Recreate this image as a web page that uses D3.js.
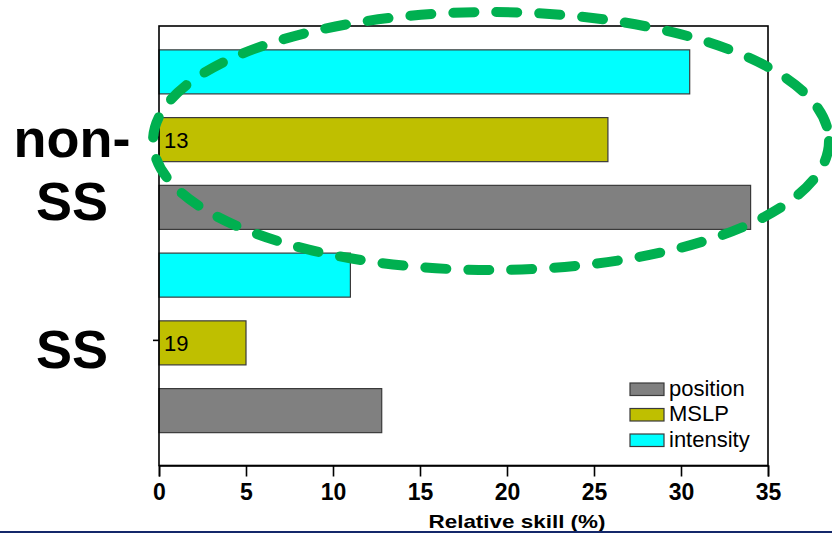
<!DOCTYPE html>
<html>
<head>
<meta charset="utf-8">
<script src="https://cdn.jsdelivr.net/npm/d3@7"></script>
<style>
  html, body { margin: 0; padding: 0; background: #fff; }
  svg { display: block; }
  text { font-family: "Liberation Sans", Arial, sans-serif; }
</style>
</head>
<body>
<svg id="chart" width="832" height="533"></svg>
<script>
// ---- data ----
const groups = ["non-SS", "SS"];
const groupLabels = [["non-", "SS"], ["SS"]];
const series = ["intensity", "MSLP", "position"];      // top-to-bottom order within a group
const legendOrder = ["position", "MSLP", "intensity"];
const valuesNonSS = [30.5, 25.8, 34.0];
const valuesSS = [11.0, 5.0, 12.8];
const barLabels = { "non-SS": "13", "SS": "19" };      // shown inside MSLP bars
const xTicks = [0, 5, 10, 15, 20, 25, 30, 35];
const xTitle = "Relative skill (%)";

const colors = { intensity: "#00ffff", MSLP: "#bfbf00", position: "#808080" };

const rows = [];
groups.forEach((g, gi) => {
  const vals = gi === 0 ? valuesNonSS : valuesSS;
  series.forEach((s, si) => rows.push({ group: g, series: s, value: vals[si], key: g + "|" + s }));
});

const svg = d3.select("#chart");
const pL = 159, pR = 768, pT = 26, pB = 465.5;

const x = d3.scaleLinear().domain([0, 35]).range([pL, pR]);
const y = d3.scaleBand().domain(rows.map(d => d.key)).range([38, 444.5])
  .paddingInner(0.35).paddingOuter(0.175);
const yg = d3.scaleBand().domain(groups).range([38, 444.5]);

// bars
svg.append("g").selectAll("rect").data(rows).join("rect")
  .attr("x", x(0))
  .attr("y", d => y(d.key))
  .attr("width", d => x(d.value) - x(0))
  .attr("height", y.bandwidth())
  .attr("fill", d => colors[d.series])
  .attr("stroke", "#3a3a3a")
  .attr("stroke-width", 1.2);

// labels inside MSLP bars
svg.append("g").selectAll("text").data(rows.filter(d => d.series === "MSLP")).join("text")
  .attr("x", x(0) + 5)
  .attr("y", d => y(d.key) + y.bandwidth() / 2 + 8)
  .attr("font-size", 22)
  .attr("fill", "#000")
  .text(d => barLabels[d.group]);

// frame
svg.append("rect")
  .attr("x", pL).attr("y", pT)
  .attr("width", pR - pL).attr("height", pB - pT)
  .attr("fill", "none").attr("stroke", "#000").attr("stroke-width", 1.6);

// x axis
const xAxis = svg.append("g")
  .attr("transform", `translate(0,${pB})`)
  .call(d3.axisBottom(x).tickValues(xTicks).tickSize(11).tickPadding(7).tickFormat(d3.format("d")));
xAxis.select(".domain").attr("stroke", "#000").attr("stroke-width", 1.6);
xAxis.selectAll(".tick line").attr("stroke", "#000").attr("stroke-width", 1.6);
xAxis.selectAll(".tick text")
  .attr("font-family", "'Liberation Sans', Arial, sans-serif")
  .attr("font-size", 23).attr("font-weight", "bold").attr("fill", "#000");

// y axis ticks
const yAxis = svg.append("g")
  .attr("transform", `translate(${pL},0)`)
  .call(d3.axisLeft(d3.scalePoint().domain(groups).range([yg("non-SS") + yg.bandwidth() / 2 - 3, yg("SS") + yg.bandwidth() / 2 - 3]))
    .tickSize(6).tickFormat(""));
yAxis.select(".domain").remove();
yAxis.selectAll(".tick line").attr("stroke", "#000").attr("stroke-width", 1.6);

// group labels
groups.forEach((g, gi) => {
  const lines = groupLabels[gi];
  const cy = yg(g) + yg.bandwidth() / 2;
  const y0 = cy + 25 - (lines.length - 1) * 8;
  const t = svg.append("text")
    .attr("x", 72).attr("text-anchor", "middle")
    .attr("font-size", 54).attr("font-weight", "bold").attr("fill", "#000");
  lines.forEach((l, li) => t.append("tspan").attr("x", 72).attr("y", y0 + li * 63).text(l));
});

// x title
svg.append("text")
  .attr("x", 517).attr("y", 528).attr("text-anchor", "middle")
  .attr("font-size", 19).attr("font-weight", "bold").attr("fill", "#000")
  .attr("textLength", 177).attr("lengthAdjust", "spacingAndGlyphs")
  .text(xTitle);

// legend
const lg = svg.append("g").attr("transform", "translate(630,383)");
legendOrder.forEach((s, i) => {
  lg.append("rect").attr("x", 0).attr("y", i * 25.5).attr("width", 34).attr("height", 12.5)
    .attr("fill", colors[s]).attr("stroke", "#3a3a3a").attr("stroke-width", 1.2);
  lg.append("text").attr("x", 39).attr("y", i * 25.5 + 12.5)
    .attr("font-size", 22).attr("fill", "#000").text(s);
});

// green dashed ellipse highlighting non-SS
svg.append("ellipse")
  .attr("cx", 491).attr("cy", 141).attr("rx", 338).attr("ry", 129)
  .attr("fill", "none").attr("stroke", "#00b050").attr("stroke-width", 10)
  .attr("stroke-dasharray", "21 22").attr("stroke-linecap", "round");

// bottom navy rule
svg.append("rect").attr("x", 0).attr("y", 531).attr("width", 832).attr("height", 2).attr("fill", "#14286a");
</script>
</body>
</html>
